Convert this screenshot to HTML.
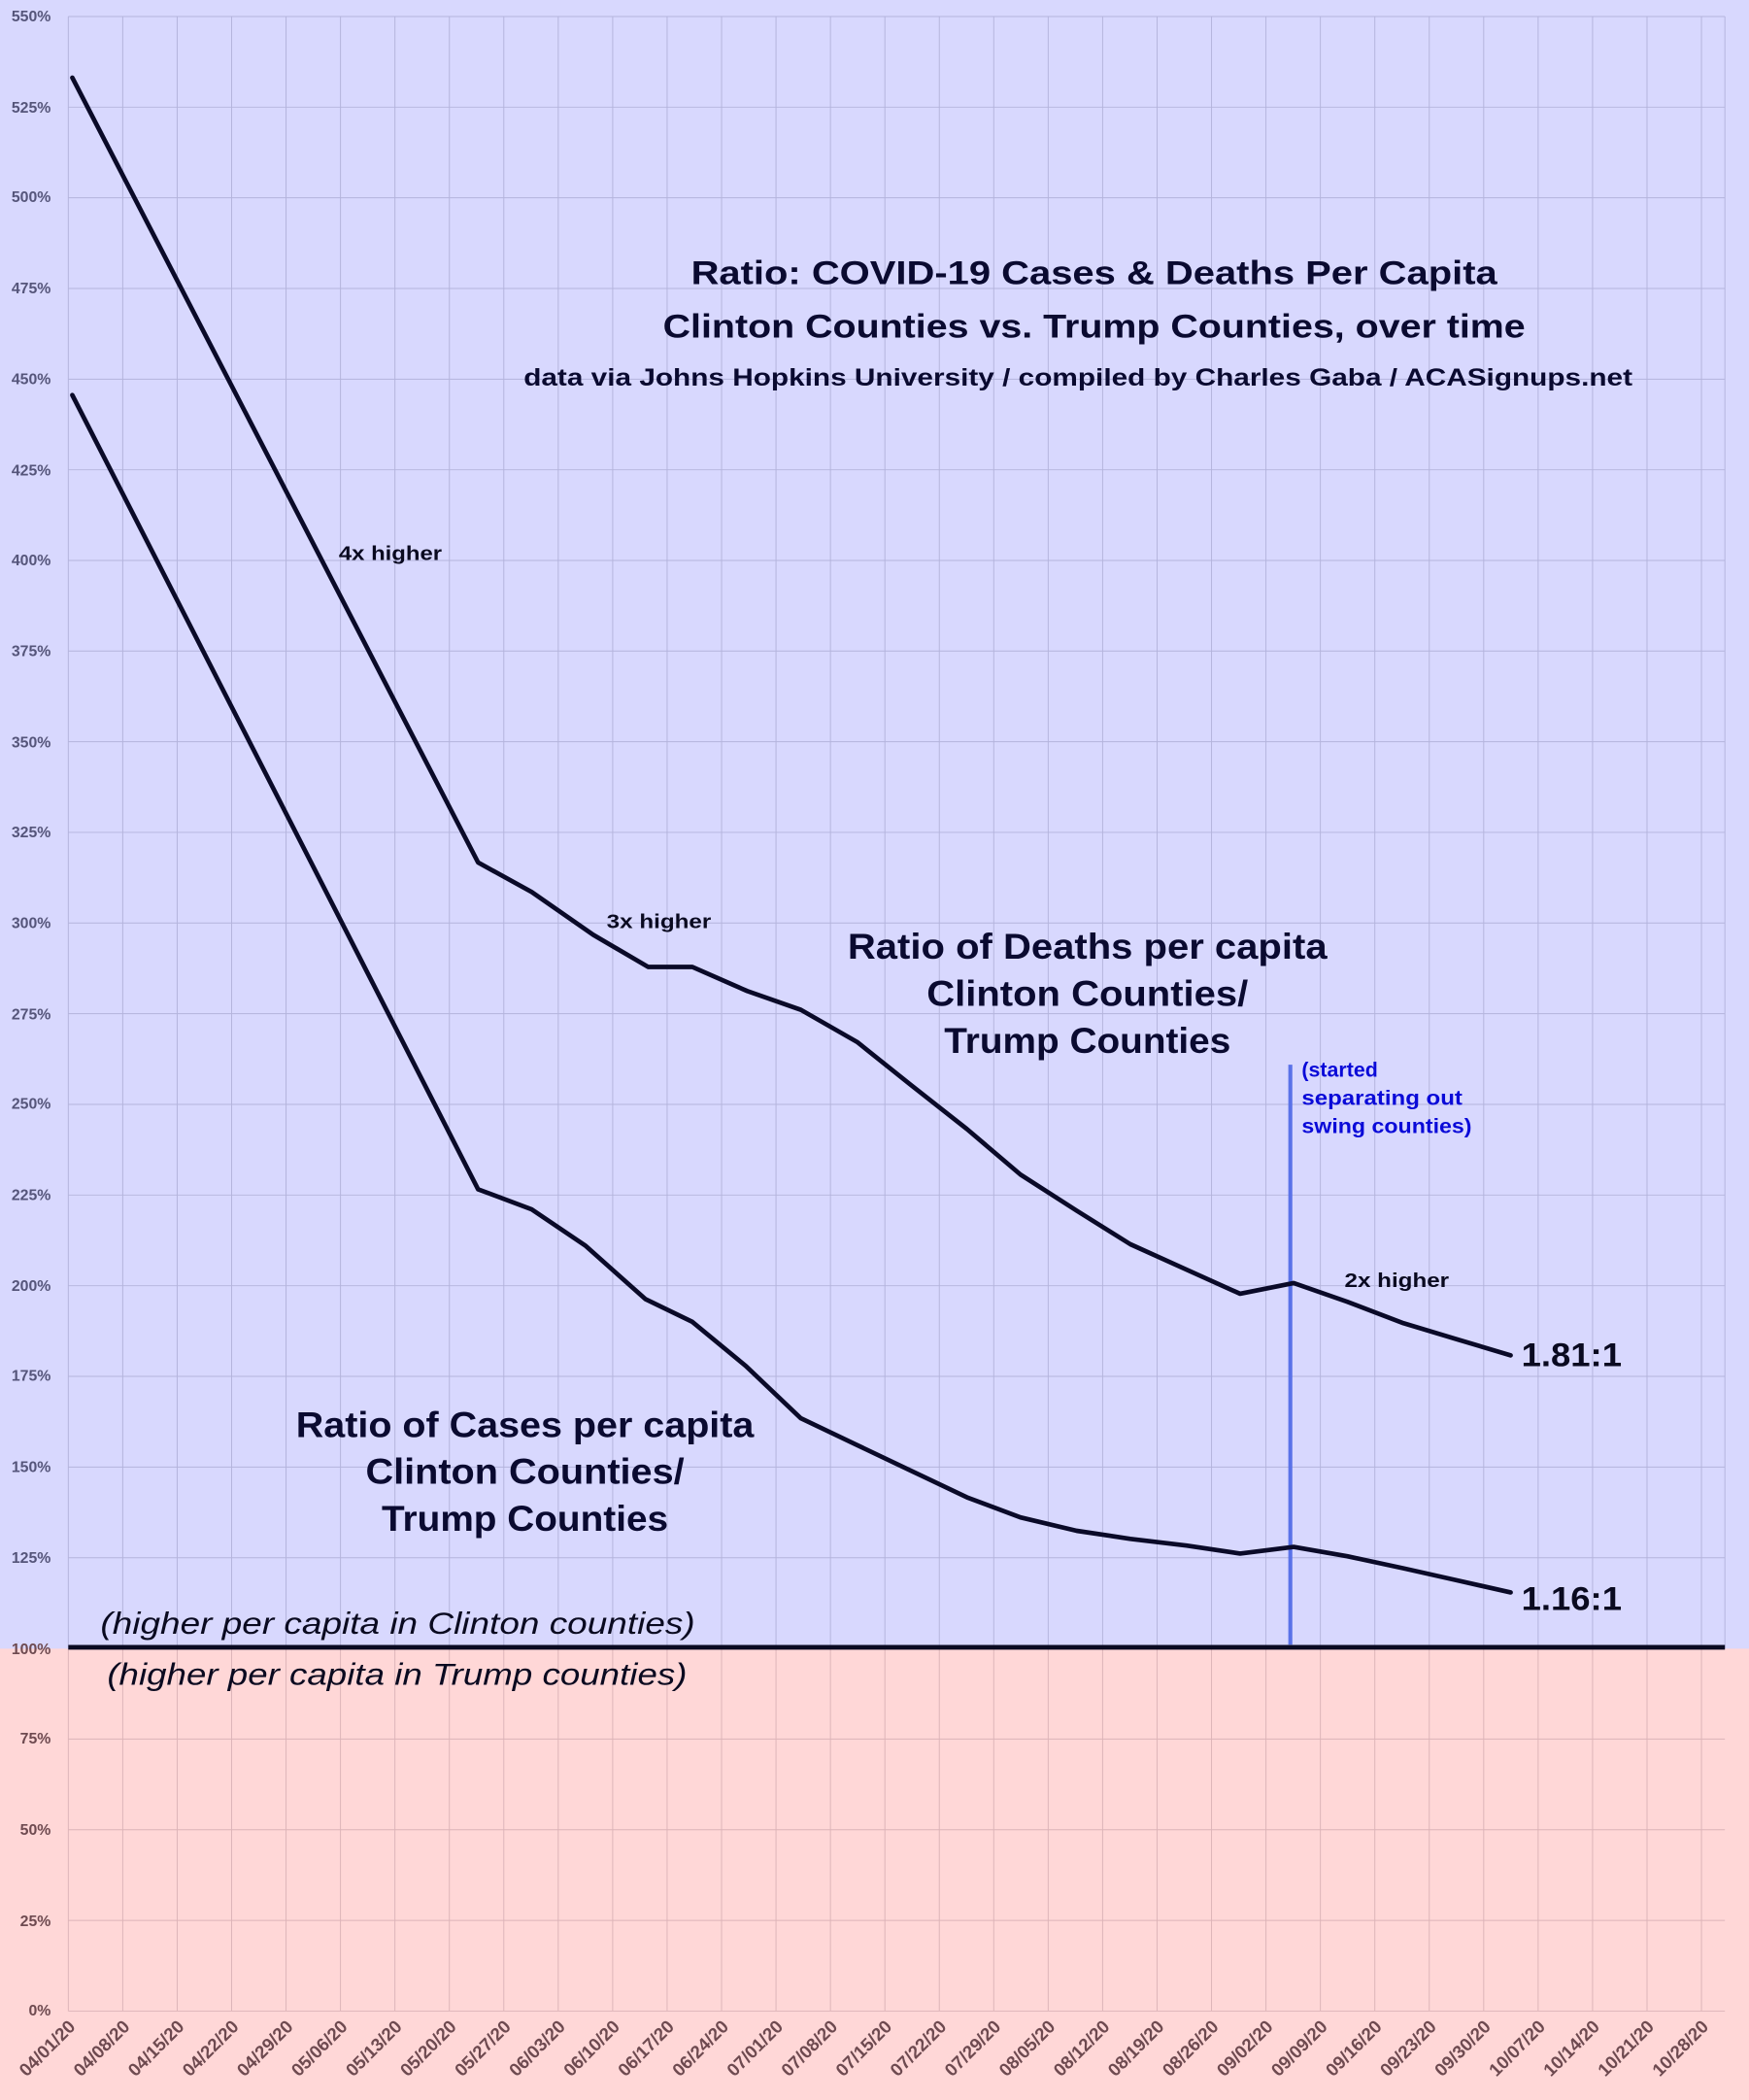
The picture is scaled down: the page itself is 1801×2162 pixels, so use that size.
<!DOCTYPE html>
<html><head><meta charset="utf-8"><style>html,body{margin:0;padding:0;background:#d8d8fe}svg{display:block}</style></head>
<body>
<svg width="1801" height="2162" viewBox="0 0 1306 1568" preserveAspectRatio="none" xmlns="http://www.w3.org/2000/svg" font-family="Liberation Sans, sans-serif">
<rect x="0" y="0" width="1306" height="1231" fill="#d8d8fe"/>
<rect x="0" y="1231" width="1306" height="337" fill="#ffd7d7"/>
<g id="grid" stroke-width="0.7">
<g stroke="#b4b4dc">
<line x1="51" y1="12.3" x2="1288" y2="12.3"/><line x1="51" y1="80" x2="1288" y2="80"/><line x1="51" y1="147.7" x2="1288" y2="147.7"/><line x1="51" y1="215.4" x2="1288" y2="215.4"/><line x1="51" y1="283.1" x2="1288" y2="283.1"/><line x1="51" y1="350.8" x2="1288" y2="350.8"/><line x1="51" y1="418.5" x2="1288" y2="418.5"/><line x1="51" y1="486.1" x2="1288" y2="486.1"/><line x1="51" y1="553.8" x2="1288" y2="553.8"/><line x1="51" y1="621.5" x2="1288" y2="621.5"/><line x1="51" y1="689.2" x2="1288" y2="689.2"/><line x1="51" y1="756.9" x2="1288" y2="756.9"/><line x1="51" y1="824.6" x2="1288" y2="824.6"/><line x1="51" y1="892.3" x2="1288" y2="892.3"/><line x1="51" y1="960" x2="1288" y2="960"/><line x1="51" y1="1027.7" x2="1288" y2="1027.7"/><line x1="51" y1="1095.4" x2="1288" y2="1095.4"/><line x1="51" y1="1163.1" x2="1288" y2="1163.1"/>
</g>
<g stroke="#dcb4b8">
<line x1="51" y1="1298.5" x2="1288" y2="1298.5"/><line x1="51" y1="1366.2" x2="1288" y2="1366.2"/><line x1="51" y1="1433.9" x2="1288" y2="1433.9"/><line x1="51" y1="1501.6" x2="1288" y2="1501.6"/>
</g>
</g>
<g id="vg" stroke-width="0.7"></g>
<g font-size="11.5" font-weight="bold" fill="#55557a" text-anchor="end">
<text x="38" y="16">550%</text><text x="38" y="84">525%</text><text x="38" y="151">500%</text><text x="38" y="219">475%</text><text x="38" y="287">450%</text><text x="38" y="355">425%</text><text x="38" y="422">400%</text><text x="38" y="490">375%</text><text x="38" y="558">350%</text><text x="38" y="625">325%</text><text x="38" y="693">300%</text><text x="38" y="761">275%</text><text x="38" y="828">250%</text><text x="38" y="896">225%</text><text x="38" y="964">200%</text><text x="38" y="1031">175%</text><text x="38" y="1099">150%</text><text x="38" y="1167">125%</text>
</g>
<g font-size="11.5" font-weight="bold" fill="#6e4a50" text-anchor="end">
<text x="38" y="1235">100%</text><text x="38" y="1302">75%</text><text x="38" y="1370">50%</text><text x="38" y="1438">25%</text><text x="38" y="1505">0%</text>
</g>
<g id="xl" font-size="13.5" font-weight="bold" fill="#6e4a50" text-anchor="end"></g>
<line x1="51" y1="1230" x2="1288" y2="1230" stroke="#0a0a22" stroke-width="3.5"/>
<line x1="963.5" y1="795" x2="963.5" y2="1228" stroke="#5a72e8" stroke-width="3"/>
<polyline fill="none" stroke="#0a0a28" stroke-width="3.4" stroke-linejoin="round" stroke-linecap="round" points="54,58 357,644 397,666 443,698 484,722 517,722 558,740 598,754 640,778 680,810 722,843 762,877 804,904 844,929 886,948 926,966 966,958 1006,972 1048,988 1088,1000 1128,1012"/>
<polyline fill="none" stroke="#0a0a28" stroke-width="3.4" stroke-linejoin="round" stroke-linecap="round" points="54,295 357,888 397,903 437,930 482,970 517,987 557,1020 598,1059 640,1079 680,1098 722,1118 762,1133 804,1143 844,1149 886,1154 926,1160 966,1155 1006,1162 1048,1171 1088,1180 1128,1189"/>
<g fill="#0a0a30" font-weight="bold" text-anchor="middle">
<text x="817" y="212" font-size="25" textLength="602" lengthAdjust="spacingAndGlyphs">Ratio: COVID-19 Cases &amp; Deaths Per Capita</text>
<text x="817" y="252" font-size="25" textLength="644" lengthAdjust="spacingAndGlyphs">Clinton Counties vs. Trump Counties, over time</text>
<text x="805" y="288" font-size="18" textLength="828" lengthAdjust="spacingAndGlyphs">data via Johns Hopkins University / compiled by Charles Gaba / ACASignups.net</text>
<text x="812" y="716" font-size="27" textLength="358" lengthAdjust="spacingAndGlyphs">Ratio of Deaths per capita</text>
<text x="812" y="751" font-size="27" textLength="240" lengthAdjust="spacingAndGlyphs">Clinton Counties/</text>
<text x="812" y="786" font-size="27" textLength="214" lengthAdjust="spacingAndGlyphs">Trump Counties</text>
<text x="392" y="1073" font-size="27" textLength="342" lengthAdjust="spacingAndGlyphs">Ratio of Cases per capita</text>
<text x="392" y="1108" font-size="27" textLength="238" lengthAdjust="spacingAndGlyphs">Clinton Counties/</text>
<text x="392" y="1143" font-size="27" textLength="214" lengthAdjust="spacingAndGlyphs">Trump Counties</text>
</g>
<g fill="#0a0a20" font-weight="bold" font-size="15">
<text x="253" y="418" textLength="77" lengthAdjust="spacingAndGlyphs">4x higher</text>
<text x="453" y="693" textLength="78" lengthAdjust="spacingAndGlyphs">3x higher</text>
<text x="1004" y="961" textLength="78" lengthAdjust="spacingAndGlyphs">2x higher</text>
</g>
<g fill="#0a0a20" font-weight="bold" font-size="25">
<text x="1136" y="1020" textLength="75" lengthAdjust="spacingAndGlyphs">1.81:1</text>
<text x="1136" y="1202" textLength="75" lengthAdjust="spacingAndGlyphs">1.16:1</text>
</g>
<g fill="#0a0ad8" font-weight="bold" font-size="15.5">
<text x="972" y="804">(started</text>
<text x="972" y="825" textLength="120" lengthAdjust="spacingAndGlyphs">separating out</text>
<text x="972" y="846" textLength="127" lengthAdjust="spacingAndGlyphs">swing counties)</text>
</g>
<g fill="#0a0a20" font-style="italic" font-size="23">
<text x="75" y="1220" textLength="444" lengthAdjust="spacingAndGlyphs">(higher per capita in Clinton counties)</text>
<text x="80" y="1258" textLength="433" lengthAdjust="spacingAndGlyphs">(higher per capita in Trump counties)</text>
</g>
</svg>
<script>
(function(){
var ns="http://www.w3.org/2000/svg";
var vg=document.getElementById("vg"),xl=document.getElementById("xl");
var labels=["04/01/20","04/08/20","04/15/20","04/22/20","04/29/20","05/06/20","05/13/20","05/20/20","05/27/20","06/03/20","06/10/20","06/17/20","06/24/20","07/01/20","07/08/20","07/15/20","07/22/20","07/29/20","08/05/20","08/12/20","08/19/20","08/26/20","09/02/20","09/09/20","09/16/20","09/23/20","09/30/20","10/07/20","10/14/20","10/21/20","10/28/20"];
for(var i=0;i<labels.length;i++){
 var x=51+i*40.65;
 var l=document.createElementNS(ns,"line");
 l.setAttribute("x1",x);l.setAttribute("x2",x);l.setAttribute("y1",12.3);l.setAttribute("y2",1231);l.setAttribute("stroke","#b4b4dc");vg.appendChild(l);
 var l2=document.createElementNS(ns,"line");
 l2.setAttribute("x1",x);l2.setAttribute("x2",x);l2.setAttribute("y1",1231);l2.setAttribute("y2",1501.6);l2.setAttribute("stroke","#dcb4b8");vg.appendChild(l2);
 var t=document.createElementNS(ns,"text");
 t.setAttribute("transform","translate("+(x+6)+",1514) rotate(-45)");
 t.textContent=labels[i];xl.appendChild(t);
}
var l3=document.createElementNS(ns,"line");
l3.setAttribute("x1",1288);l3.setAttribute("x2",1288);l3.setAttribute("y1",12.3);l3.setAttribute("y2",1231);l3.setAttribute("stroke","#b4b4dc");vg.appendChild(l3);
})();
</script>
</body></html>
